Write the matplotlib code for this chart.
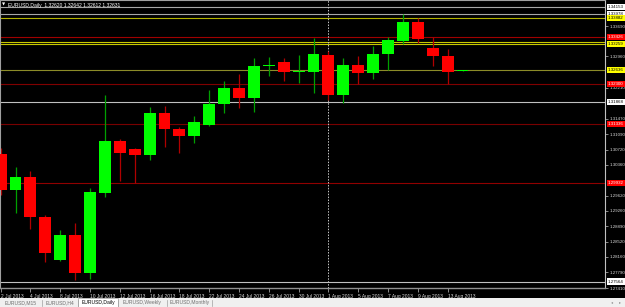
import matplotlib
matplotlib.use("Agg")
import matplotlib.pyplot as plt
from matplotlib.patches import Rectangle
from matplotlib.transforms import blended_transform_factory

# ---------------- data ----------------
dates = ["2 Jul", "3 Jul", "4 Jul", "5 Jul", "8 Jul", "9 Jul", "10 Jul", "11 Jul", "12 Jul",
         "15 Jul", "16 Jul", "17 Jul", "18 Jul", "19 Jul", "22 Jul", "23 Jul", "24 Jul",
         "25 Jul", "26 Jul", "29 Jul", "30 Jul", "31 Jul", "1 Aug", "2 Aug", "5 Aug",
         "6 Aug", "7 Aug", "8 Aug", "9 Aug", "12 Aug", "13 Aug", "14 Aug"]
opens = [1.30622, 1.29759, 1.30071, 1.29112, 1.28081, 1.28680, 1.27770, 1.29687, 1.30934,
         1.30742, 1.30598, 1.31605, 1.31221, 1.31053, 1.31317, 1.31820, 1.32204, 1.31964,
         1.32743, 1.32827, 1.32588, 1.32588, 1.32995, 1.32036, 1.32755, 1.32564, 1.33019,
         1.33331, 1.33786, 1.33163, 1.32971, 1.32620]
highs = [1.30766, 1.30310, 1.30215, 1.29160, 1.28800, 1.28968, 1.29807, 1.32036, 1.30982,
         1.30766, 1.31749, 1.31773, 1.31269, 1.31533, 1.32156, 1.32372, 1.32540, 1.32923,
         1.32947, 1.32923, 1.32995, 1.33403, 1.33091, 1.32923, 1.32971, 1.33211, 1.33426,
         1.33978, 1.33882, 1.33426, 1.33139, 1.32642]
lows = [1.29639, 1.29208, 1.28824, 1.28033, 1.28057, 1.27602, 1.27626, 1.29591, 1.29975,
        1.29927, 1.30478, 1.30790, 1.30646, 1.30886, 1.31293, 1.31605, 1.31725, 1.31629,
        1.32492, 1.32372, 1.32324, 1.32084, 1.31916, 1.31844, 1.32300, 1.32420, 1.32636,
        1.33259, 1.33283, 1.32731, 1.32300, 1.32612]
closes = [1.29759, 1.30071, 1.29112, 1.28249, 1.28680, 1.27770, 1.29711, 1.30934, 1.30646,
          1.30598, 1.31605, 1.31221, 1.31053, 1.31389, 1.31820, 1.32204, 1.31964, 1.32731,
          1.32755, 1.32588, 1.32612, 1.33019, 1.32036, 1.32755, 1.32564, 1.33019, 1.33355,
          1.33786, 1.33379, 1.32971, 1.32588, 1.32631]

# horizontal levels: price, line colour, label box colour, label text colour, labelled?
level_prices = [1.34153, 1.33978, 1.33882, 1.33426, 1.33307, 1.33259, 1.32636,
                1.32300, 1.31868, 1.31336, 1.29932, 1.27564]
level_colors = ["#a8a8a8", "#a8a8a8", "#b4b400", "#a00000", "#c8c800", "#c8c800", "#8c8c28",
                "#800000", "#c0c0c0", "#780000", "#900000", "#c0c0c0"]
level_box = ["#ffffff", "#ffffff", "#ffff00", "#ff0000", "#ffff00", "#ffff00", "#ffff00",
             "#ff0000", "#ffffff", "#ff0000", "#ff0000", "#ffffff"]
level_txt = ["#000000", "#000000", "#000000", "#ffffff", "#000000", "#000000", "#000000",
             "#ffffff", "#000000", "#ffffff", "#ffffff", "#000000"]
level_labelled = [True, True, True, True, False, True, True, True, True, True, True, True]

price_ticks = [1.27410, 1.27790, 1.28160, 1.28520, 1.28890, 1.29260, 1.29620, 1.30360,
               1.30720, 1.31090, 1.31470, 1.32210, 1.32960, 1.33690]

date_tick_idx = [0, 2, 4, 6, 8, 10, 12, 14, 16, 18, 20, 22, 24, 26, 28, 30]
date_tick_lbl = ["2 Jul 2013", "4 Jul 2013", "8 Jul 2013", "10 Jul 2013", "12 Jul 2013",
                 "16 Jul 2013", "18 Jul 2013", "22 Jul 2013", "24 Jul 2013", "26 Jul 2013",
                 "30 Jul 2013", "1 Aug 2013", "5 Aug 2013", "7 Aug 2013", "9 Aug 2013",
                 "13 Aug 2013"]
separator_idx = 22

title = "EURUSD,Daily  1.32620 1.32642 1.32612 1.32631"
tabs = ["EURUSD,M15", "EURUSD,H4", "EURUSD,Daily", "EURUSD,Weekly", "EURUSD,Monthly"]
active_tab = 2

# ---------------- figure ----------------
W, H = 625, 307
fig = plt.figure(figsize=(W / 100, H / 100), dpi=100, facecolor="black")
FONT = "Liberation Sans"
FS = 3.2

chart_right = 605
chart_bottom = 288
ax = fig.add_axes([0, (H - chart_bottom) / H, chart_right / W, chart_bottom / H])
ax.set_facecolor("black")

step = 14.9
x0 = 0.6
ax.set_xlim(-x0 / step, (chart_right - x0) / step)
ppx = 0.0002397
ax.set_ylim(1.27410, 1.27410 + chart_bottom * ppx)

# levels
for p, c in zip(level_prices, level_colors):
    ax.axhline(p, color=c, lw=0.8, zorder=1)

# period separator
ax.axvline(separator_idx, color="#c8c8c8", lw=0.7, ls=(0, (1.5, 1.5)), zorder=1)

# candles
for i, (o, h, l, c) in enumerate(zip(opens, highs, lows, closes)):
    bull = c >= o
    wick = "#00a000" if bull else "#b00000"
    body = "#00ff00" if bull else "#ff0000"
    ax.vlines(i, l, h, color=wick, lw=0.9, zorder=2)
    ax.bar(i, max(abs(c - o), 0.00004), bottom=min(o, c), width=0.8,
           color=body, edgecolor="none", zorder=3)

# spines
for s in ["top", "left"]:
    ax.spines[s].set_color("#a0a0a0")
    ax.spines[s].set_linewidth(0.8)
ax.spines["bottom"].set_color("#909090")
ax.spines["right"].set_color("#c0c0c0")
ax.spines["bottom"].set_linewidth(1.0)
ax.spines["right"].set_linewidth(0.8)

# y ticks on right
ax.yaxis.tick_right()
ax.set_yticks(price_ticks)
ax.set_yticklabels([f"{v:.5f}" for v in price_ticks], fontsize=FS, color="#d8d8d8",
                   family=FONT)
ax.tick_params(axis="y", length=2, width=0.5, color="#c0c0c0", pad=1)

# x ticks
ax.set_xticks(date_tick_idx)
ax.set_xticklabels(date_tick_lbl, fontsize=3.5, color="#d8d8d8", family=FONT, ha="left")
ax.tick_params(axis="x", length=3, width=0.5, color="#c0c0c0", pad=1)

# level labels on price axis
tr = blended_transform_factory(ax.transAxes, ax.transData)
for p, bc, tc, show in zip(level_prices, level_box, level_txt, level_labelled):
    if not show:
        continue
    ax.text(1.0 + 3 / chart_right, p, f"{p:.5f}", transform=tr, fontsize=FS, color=tc,
            family=FONT, va="center", ha="left", clip_on=False, zorder=10,
            bbox=dict(boxstyle="square,pad=0.25", fc=bc, ec="none"))

# title
fig.text(2 / W, 1 - 5 / H, "\u25bc", fontsize=3.0, color="white", va="center", ha="left")
fig.text(8 / W, 1 - 5 / H, title, fontsize=3.6, color="white", va="center", ha="left",
         family=FONT)

# tab bar
tab_h = 9
axt = fig.add_axes([0, 0, 1, tab_h / H])
axt.set_xlim(0, W)
axt.set_ylim(0, tab_h)
axt.axis("off")
axt.add_patch(Rectangle((0, 0), W, tab_h, fc="#f0f0f0", ec="none"))
edges = [0, 42, 78, 118, 167, 212]
for k, name in enumerate(tabs):
    a, b = edges[k], edges[k + 1]
    if k == active_tab:
        axt.add_patch(Rectangle((a, 0), b - a, tab_h, fc="white", ec="#a0a0a0", lw=0.5))
    axt.plot([b, b], [1.5, 7.5], color="#a0a0a0", lw=0.5)
    axt.text((a + b) / 2, 4.5, name, fontsize=3.6, family=FONT, ha="center", va="center",
             color="black" if k == active_tab else "#707070")
axt.text(612, 4.5, "\u25c2", fontsize=3, color="#909090", ha="center", va="center")
axt.text(620, 4.5, "\u25b8", fontsize=3, color="#909090", ha="center", va="center")

fig.savefig("out.png", dpi=100, facecolor="black")
